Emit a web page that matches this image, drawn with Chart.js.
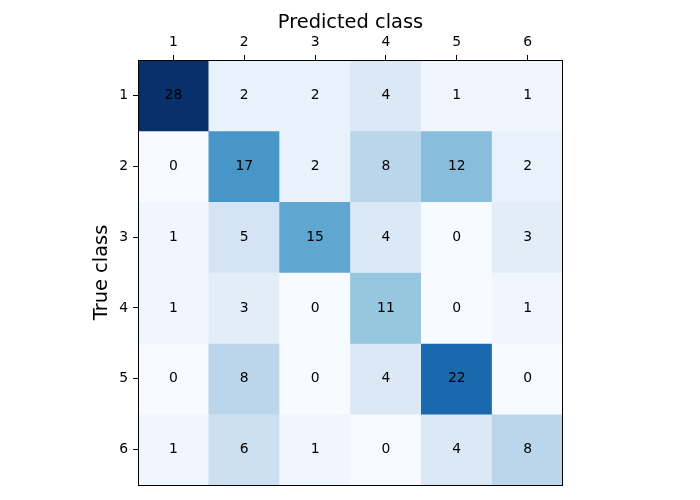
<!DOCTYPE html>
<html>
<head>
<meta charset="utf-8">
<script src="https://cdn.jsdelivr.net/npm/chart.js@4"></script>
<style>
html,body{margin:0;padding:0;background:#fff;}
#wrap{width:700px;height:500px;position:relative;}
</style>
</head>
<body>
<div id="wrap"><canvas id="c"></canvas></div>
<script>
const predictedLabels = ['1','2','3','4','5','6'];
const trueLabels = ['1','2','3','4','5','6'];
const row1 = [28, 2, 2, 4, 1, 1];
const row2 = [0, 17, 2, 8, 12, 2];
const row3 = [1, 5, 15, 4, 0, 3];
const row4 = [1, 3, 0, 11, 0, 1];
const row5 = [0, 8, 0, 4, 22, 0];
const row6 = [1, 6, 1, 0, 4, 8];
const rows = [row1, row2, row3, row4, row5, row6];

const vmax = Math.max(...rows.flat());
const blues = [[247,251,255],[222,235,247],[198,219,239],[158,202,225],[107,174,214],[66,146,198],[33,113,181],[8,81,156],[8,48,107]];
function bluesColor(t){
  t = Math.max(0, Math.min(1, t));
  const p = t * (blues.length - 1);
  const i = Math.min(Math.floor(p), blues.length - 2);
  const f = p - i;
  const a = blues[i], b = blues[i+1];
  const c = a.map((v,k)=>Math.round(v + (b[k]-v)*f));
  return `rgb(${c[0]},${c[1]},${c[2]})`;
}

const FONT = 'DejaVu Sans';
Chart.defaults.font.family = FONT;
Chart.defaults.color = '#000';

const datasets = rows.map((row, r) => ({
  label: 'True ' + trueLabels[r],
  data: row.map(() => [r + 0.5, r + 1.5]),
  values: row,
  backgroundColor: row.map(v => bluesColor(v / vmax)),
  borderWidth: 0,
  grouped: false,
  barPercentage: 1,
  categoryPercentage: 1
}));

const annotate = {
  id: 'annotate',
  afterDatasetsDraw(chart){
    const ctx = chart.ctx;
    const xs = chart.scales.x, ys = chart.scales.y;
    ctx.save();
    ctx.font = `13.9px "${FONT}"`;
    ctx.fillStyle = '#000';
    ctx.textAlign = 'center';
    ctx.textBaseline = 'middle';
    rows.forEach((row, r) => {
      row.forEach((v, c) => {
        ctx.fillText(String(v), xs.getPixelForValue(c), ys.getPixelForValue(r + 1));
      });
    });
    const a = chart.chartArea;
    ctx.strokeStyle = '#000';
    ctx.lineWidth = 1;
    ctx.strokeRect(Math.round(a.left) + 0.5, Math.round(a.top) + 0.5, Math.round(a.right - a.left) - 1, Math.round(a.bottom - a.top));
    ctx.restore();
  }
};

new Chart(document.getElementById('c'), {
  type: 'bar',
  data: { labels: predictedLabels, datasets },
  plugins: [annotate],
  options: {
    responsive: true,
    maintainAspectRatio: false,
    animation: false,
    layout: { padding: { left: 0, right: 137, top: 0, bottom: 15 } },
    plugins: { legend: { display: false }, tooltip: { enabled: false } },
    scales: {
      x: {
        type: 'category',
        position: 'top',
        offset: true,
        afterFit(s){ s.height = 60; },
        grid: { offset: false, drawOnChartArea: false, drawTicks: true, tickLength: 5, tickColor: '#000', lineWidth: 1 },
        border: { display: false },
        ticks: { font: { size: 13.9 }, padding: 4, maxRotation: 0 },
        title: { display: true, text: 'Predicted class', font: { size: 19.4 }, padding: { top: 11.4, bottom: 0 } }
      },
      y: {
        type: 'linear',
        reverse: true,
        min: 0.5,
        max: 6.5,
        afterFit(s){ s.width = 138; },
        afterBuildTicks(s){ s.ticks = trueLabels.map((_, i) => ({ value: i + 1 })); },
        grid: { drawOnChartArea: false, drawTicks: true, tickLength: 5, tickColor: '#000', lineWidth: 1 },
        border: { display: false },
        ticks: { font: { size: 13.9 }, padding: 5, callback: (v) => trueLabels[Math.round(v) - 1] },
        title: { display: true, text: 'True class', font: { size: 19.4 }, padding: { top: 90.5, bottom: 0 } }
      }
    }
  }
});
</script>
</body>
</html>
